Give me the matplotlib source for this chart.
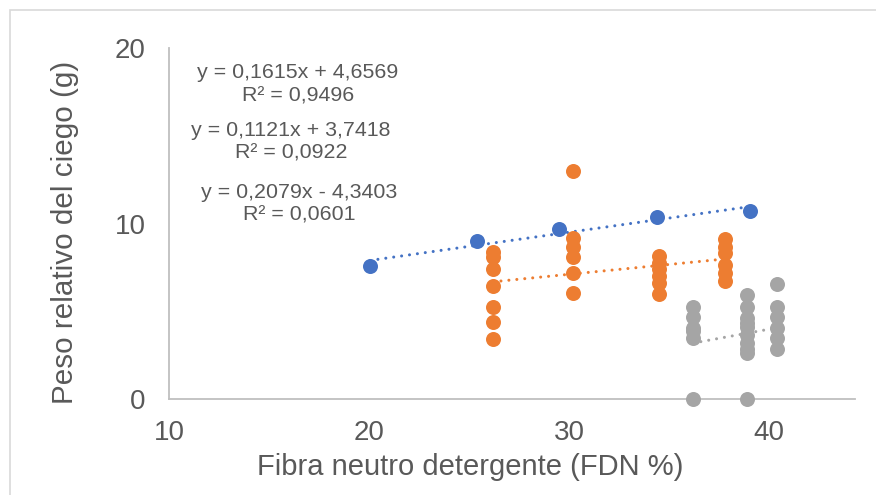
import matplotlib
matplotlib.use("Agg")
import matplotlib.pyplot as plt
from matplotlib.patches import Rectangle
import numpy as np

plt.rcParams['font.family'] = ['Liberation Sans', 'DejaVu Sans']

# ---- data ----
blue_x = [20.05, 25.4, 29.5, 34.4, 39.05]
blue_y = [7.58, 9.03, 9.67, 10.36, 10.74]

orange_x = [26.2, 26.2, 26.2, 26.2, 26.2, 26.2, 26.2,
            30.2, 30.2, 30.2, 30.2, 30.2, 30.2,
            34.5, 34.5, 34.5, 34.5, 34.5, 34.5,
            37.8, 37.8, 37.8, 37.8, 37.8, 37.8]
orange_y = [8.39, 8.07, 7.39, 6.44, 5.23, 4.40, 3.42,
            13.01, 9.16, 8.64, 8.07, 7.16, 6.06,
            8.15, 7.77, 7.39, 7.01, 6.63, 5.98,
            9.10, 8.68, 8.30, 7.64, 7.16, 6.74]

gray_x = [36.2, 36.2, 36.2, 36.2, 36.2, 36.2,
          38.9, 38.9, 38.9, 38.9, 38.9, 38.9, 38.9, 38.9, 38.9, 38.9,
          40.4, 40.4, 40.4, 40.4, 40.4, 40.4]
gray_y = [5.26, 4.69, 4.03, 3.85, 3.46, 0.0,
          5.93, 5.26, 4.60, 4.35, 4.12, 3.65, 3.17, 2.85, 2.60, 0.0,
          6.55, 5.26, 4.69, 4.03, 3.46, 2.83]

slopes = [0.1615, 0.1121, 0.2079]
intercepts = [4.6569, 3.7418, -4.3403]
r2_values = [0.9496, 0.0922, 0.0601]

x_ticks = [10, 20, 30, 40]
y_ticks = [0, 10, 20]

colors = ['#4472C4', '#ED7D31', '#A5A5A5']
text_color = '#595959'
axis_color = '#BFBFBF'

fig = plt.figure(figsize=(8.76, 4.95), dpi=100)
ax = fig.add_axes([169/876, (495-399)/495, (855-169)/876, (399-48)/495])

series = [(blue_x, blue_y), (orange_x, orange_y), (gray_x, gray_y)]
for i, (xs, ys) in enumerate(series):
    ax.plot(xs, ys, linestyle='none', marker='o', markersize=10.8,
            color=colors[i], markeredgewidth=0, zorder=3, clip_on=False)

for i, (xs, ys) in enumerate(series):
    x0, x1 = min(xs), max(xs)
    xx = np.array([x0, x1])
    ax.plot(xx, slopes[i]*xx + intercepts[i], color=colors[i], lw=2.2,
            dashes=(0.01, 2.6), dash_capstyle='round', solid_capstyle='round',
            zorder=2)

ax.set_xlim(10, 44.3)
ax.set_ylim(0, 20)
ax.set_xticks(x_ticks)
ax.set_yticks(y_ticks)
ax.tick_params(axis='both', length=0, labelsize=20, colors=text_color)
ax.tick_params(axis='x', pad=15)
ax.tick_params(axis='y', pad=17)
for s in ['top', 'right']:
    ax.spines[s].set_visible(False)
for s in ['left', 'bottom']:
    ax.spines[s].set_color(axis_color)
    ax.spines[s].set_linewidth(1.3)

ax.set_xlabel('Fibra neutro detergente (FDN %)', fontsize=21, color=text_color)
ax.xaxis.set_label_coords((470-169)/686, (399-467)/351)
ax.xaxis.label.set_va('center')
ax.set_ylabel('Peso relativo del ciego (g)', fontsize=21.3, color=text_color)
ax.yaxis.set_label_coords((65-169)/686, (399-232)/351)
ax.yaxis.label.set_va('center')

def fmt(v):
    return f"{abs(v):.4f}".replace('.', ',')

eq_pos = [(298, 72, 96), (291, 130, 153), (299, 192, 215)]
for i in range(3):
    sign = '+' if intercepts[i] >= 0 else '-'
    eq = f"y = {fmt(slopes[i])}x {sign} {fmt(intercepts[i])}"
    r2 = f"R² = {fmt(r2_values[i])}"
    cx, y1, y2 = eq_pos[i]
    fig.text(cx/876, 1 - y1/495, eq, ha='center', va='center', fontsize=15.4,
             color=text_color)
    fig.text(cx/876, 1 - y2/495, r2, ha='center', va='center', fontsize=15.4,
             color=text_color)

fig.patches.append(Rectangle((10/876, -0.1), 1.2, (495-10)/495 + 0.1,
                             transform=fig.transFigure, fill=False,
                             edgecolor='#D9D9D9', lw=1.2))

fig.savefig('out.png', dpi=100)
